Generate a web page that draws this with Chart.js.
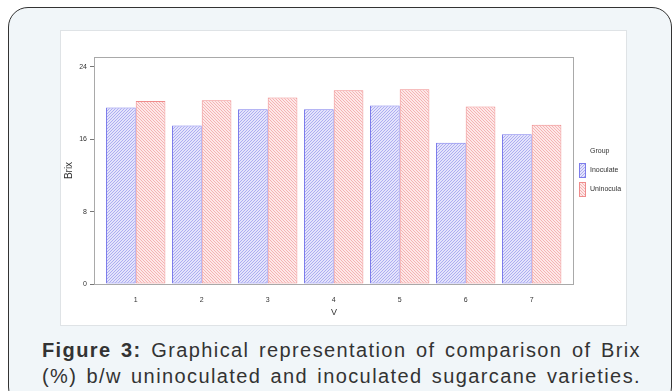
<!DOCTYPE html>
<html>
<head>
<meta charset="utf-8">
<script src="https://cdn.jsdelivr.net/npm/chart.js@4.4.0/dist/chart.umd.min.js"></script>
<style>
  html, body { margin: 0; padding: 0; width: 672px; height: 391px; overflow: hidden; background: #fff; }
  .frame { position: absolute; left: 8px; top: 7px; width: 664px; height: 400px; box-sizing: border-box;
    border: 1.5px solid #333; border-radius: 20px; background: #f1f6f9; }
  .panel { position: absolute; left: 61px; top: 31px; width: 565px; height: 294px; background: #fff;
    box-shadow: 0 0 0 1px #dfe3e6; }
  .panel canvas { position: absolute; left: 0; top: 0; }
  .caption { position: absolute; left: 42px; top: 337px; width: 599px; color: #333;
    font: 20px "Liberation Sans", Arial, sans-serif; line-height: 26px; letter-spacing: 1.4px; }
  .caption div { text-align: justify; text-align-last: justify; white-space: nowrap; }
  .caption b { font-weight: bold; }
</style>
</head>
<body>
<div class="frame"></div>
<div class="panel"><canvas id="brix" width="565" height="294"></canvas></div>
<div class="caption">
  <div><b>Figure 3:</b> Graphical representation of comparison of Brix</div>
  <div>(%) b/w uninoculated and inoculated sugarcane varieties.</div>
</div>
<script>
"use strict";

const varieties = [1, 2, 3, 4, 5, 6, 7];
const inoculated = [19.5, 17.5, 19.3, 19.3, 19.7, 15.6, 16.55];
const uninoculated = [20.2, 20.3, 20.6, 21.4, 21.5, 19.6, 17.6];
const groupNames = ["Inoculate", "Uninocula"];
const yTicks = [0, 8, 16, 24];

const FONT = '"Liberation Sans", Arial, sans-serif';
const INK = "#333";

// diagonal hatch tile, dir > 0 gives "/", dir < 0 gives "\"
function hatch(bg, line, dir) {
  const n = 3;
  const c = document.createElement("canvas");
  c.width = c.height = n;
  const g = c.getContext("2d");
  g.fillStyle = bg;
  g.fillRect(0, 0, n, n);
  g.strokeStyle = line;
  g.lineWidth = 0.9;
  g.beginPath();
  if (dir > 0) {
    g.moveTo(0, n); g.lineTo(n, 0);
    g.moveTo(-1, 1); g.lineTo(1, -1);
    g.moveTo(n - 1, n + 1); g.lineTo(n + 1, n - 1);
  } else {
    g.moveTo(0, 0); g.lineTo(n, n);
    g.moveTo(n - 1, -1); g.lineTo(n + 1, 1);
    g.moveTo(-1, n - 1); g.lineTo(1, n + 1);
  }
  g.stroke();
  return g.createPattern(c, "repeat");
}

function points(values) {
  return varieties.map((v, i) => ({ x: v, y: values[i] }));
}

const plotFrame = {
  id: "plotFrame",
  beforeDatasetsDraw(chart) {
    const { ctx, chartArea: a } = chart;
    ctx.save();
    ctx.strokeStyle = "#a9a9a9";
    ctx.lineWidth = 1;
    ctx.strokeRect(Math.round(a.left) + 0.5, Math.round(a.top) + 0.5,
      Math.round(a.right - a.left) - 1, Math.round(a.bottom - a.top));
    ctx.restore();
  },
};

const groupLegend = {
  id: "groupLegend",
  afterDraw(chart) {
    const { ctx, chartArea: a } = chart;
    const x = a.right + 5;
    const cy = (a.top + a.bottom) / 2;
    ctx.save();
    ctx.font = "7px " + FONT;
    ctx.textBaseline = "middle";
    ctx.fillStyle = INK;
    ctx.fillText("Group", x + 11, cy - 19);
    chart.data.datasets.forEach((ds, i) => {
      const top = cy - 7.5 + i * 19;
      ctx.fillStyle = ds.backgroundColor;
      ctx.fillRect(x, top, 7, 15);
      ctx.strokeStyle = ds.borderColor;
      ctx.lineWidth = 1;
      ctx.strokeRect(x + 0.5, top + 0.5, 6, 14);
      ctx.fillStyle = INK;
      ctx.fillText(ds.label, x + 11, top + 7.5);
    });
    ctx.restore();
  },
};

new Chart(document.getElementById("brix"), {
  type: "bar",
  data: {
    datasets: [
      { label: groupNames[0], data: points(inoculated),
        backgroundColor: hatch("#e4e4fb", "#a6a6ef", 1), borderColor: "#7d7deb", borderWidth: 1, borderSkipped: false },
      { label: groupNames[1], data: points(uninoculated),
        backgroundColor: hatch("#fde8e8", "#f4adad", -1), borderColor: "#ef8c8c", borderWidth: 1, borderSkipped: false },
    ],
  },
  options: {
    responsive: false,
    animation: false,
    events: [],
    layout: { padding: { top: 26, right: 52, left: 0, bottom: 0 } },
    datasets: { bar: { barPercentage: 1, categoryPercentage: 0.9 } },
    plugins: { legend: { display: false }, tooltip: { enabled: false } },
    scales: {
      x: {
        type: "linear",
        offset: false,
        min: 0.368,
        max: 7.641,
        afterBuildTicks: (s) => { s.ticks = varieties.map((v) => ({ value: v })); },
        afterFit: (s) => { s.height = 41; },
        grid: { display: false, offset: false },
        border: { display: false },
        ticks: { color: INK, font: { family: FONT, size: 7 }, padding: 4, maxRotation: 0 },
        title: { display: true, text: "V", color: INK, font: { family: FONT, size: 9 }, padding: { top: 0, bottom: 7 } },
      },
      y: {
        min: 0,
        max: 25.07,
        afterBuildTicks: (s) => { s.ticks = yTicks.map((v) => ({ value: v })); },
        afterFit: (s) => { s.width = 33; },
        grid: { display: true, drawOnChartArea: false, drawTicks: true, tickLength: 4, color: "#777" },
        border: { display: false },
        ticks: { color: INK, font: { family: FONT, size: 7 }, padding: 3 },
        title: { display: true, text: "Brix", color: INK, font: { family: FONT, size: 10 }, padding: { top: 2, bottom: 0 } },
      },
    },
  },
  plugins: [plotFrame, groupLegend],
});
</script>
</body>
</html>
